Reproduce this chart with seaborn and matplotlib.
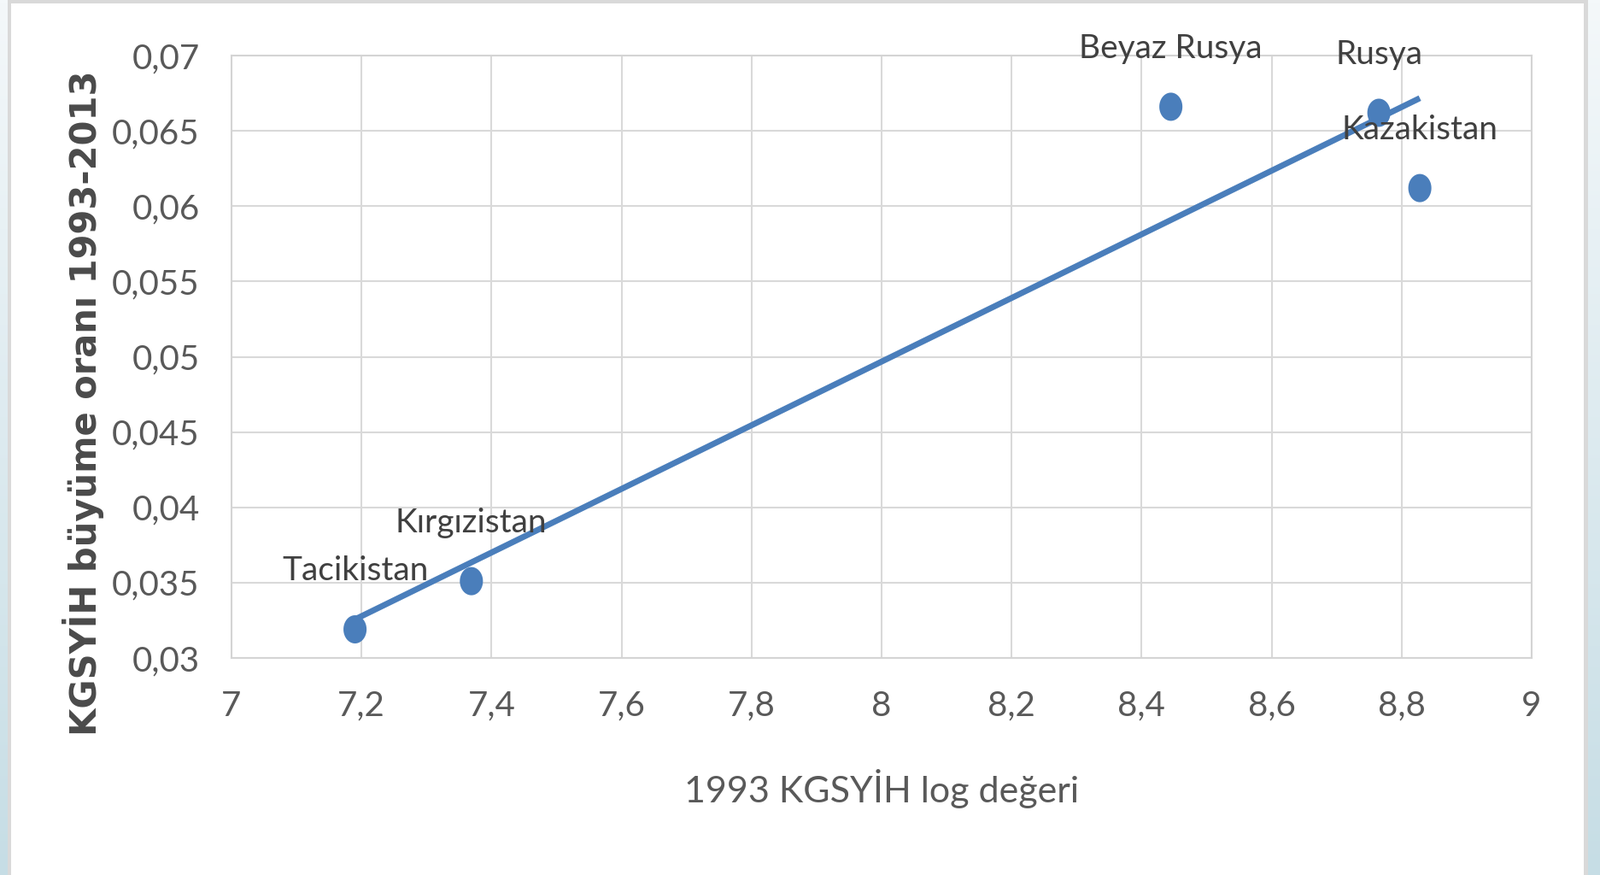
import numpy as np
import pandas as pd
import matplotlib.pyplot as plt
from matplotlib.patches import Rectangle
from matplotlib.colors import LinearSegmentedColormap
import seaborn as sns

# values
countries = ['Tacikistan', 'Kırgızistan', 'Beyaz Rusya', 'Rusya', 'Kazakistan']
gdp_log_1993 = [7.19, 7.369, 8.445, 8.765, 8.828]
growth_1993_2013 = [0.0319, 0.0351, 0.0666, 0.0662, 0.0612]

x_ticks = [7, 7.2, 7.4, 7.6, 7.8, 8, 8.2, 8.4, 8.6, 8.8, 9]
x_tick_labels = ['7', '7,2', '7,4', '7,6', '7,8', '8', '8,2', '8,4', '8,6', '8,8', '9']
y_ticks = [0.03, 0.035, 0.04, 0.045, 0.05, 0.055, 0.06, 0.065, 0.07]
y_tick_labels = ['0,03', '0,035', '0,04', '0,045', '0,05', '0,055', '0,06', '0,065', '0,07']

df = pd.DataFrame({'ulke': countries, 'log_kgsyih': gdp_log_1993, 'buyume': growth_1993_2013})

sns.set_style('white')
plt.rcParams['font.family'] = ['Lato', 'DejaVu Sans']

W, H = 1873, 1024
fig = plt.figure(figsize=(W / 100, H / 100), dpi=100)

# slide frame behind the chart
bg = fig.add_axes([0, 0, 1, 1], zorder=-10)
grad = np.linspace(0, 1, 256).reshape(-1, 1)
cmap = LinearSegmentedColormap.from_list('frame', ['#f4f8fa', '#c6dde5'])
bg.imshow(grad, aspect='auto', cmap=cmap, extent=[0, 1, 0, 1], origin='upper')
bg.axis('off')
fig.add_artist(Rectangle((9 / W, 0), (1859 - 9) / W, 1, transform=fig.transFigure,
                         facecolor='#d9d9d9', edgecolor='none', zorder=-5))
fig.add_artist(Rectangle((13 / W, 0), (1854 - 13) / W, (H - 4) / H, transform=fig.transFigure,
                         facecolor='white', edgecolor='none', zorder=-4))

ax = fig.add_axes([271 / W, 1 - 770 / H, (1793 - 271) / W, (770 - 65) / H])
ax.set_facecolor('none')

blue = '#4a7ebb'
ellipse = [(0.41 * np.cos(t), 0.5 * np.sin(t)) for t in np.linspace(0, 2 * np.pi, 48)]
sns.regplot(data=df, x='log_kgsyih', y='buyume', ci=None, truncate=True,
            marker=ellipse, color=blue, ax=ax,
            scatter_kws={'s': 565, 'edgecolors': 'none', 'alpha': 1, 'zorder': 3},
            line_kws={'lw': 5, 'solid_capstyle': 'butt', 'zorder': 4})

for name, x, y in zip(countries, gdp_log_1993, growth_1993_2013):
    ax.annotate(name, (x, y), xytext=(0, 49), textcoords='offset points',
                ha='center', va='center', fontsize=28, color='#404040', zorder=5)

ax.set_xlim(7, 9)
ax.set_ylim(0.03, 0.07)
ax.set_xticks(x_ticks, x_tick_labels)
ax.set_yticks(y_ticks, y_tick_labels)
ax.tick_params(length=0, labelsize=29, colors='#595959', pad=27)
ax.grid(True, color='#d9d9d9', lw=1.5)
ax.set_axisbelow(True)
for s in ax.spines.values():
    s.set_visible(True)
    s.set_color('#d4d4d4')
    s.set_linewidth(1.5)

ax.set_xlabel('1993 KGSYİH log değeri', fontsize=31, color='#595959')
ax.xaxis.set_label_coords(0.5, -0.217)
ax.xaxis.label.set_va('center')
ax.set_ylabel('KGSYİH büyüme oranı 1993-2013', fontsize=30, color='#4a4a4a',
              fontweight='bold', family='DejaVu Sans')
ax.yaxis.set_label_coords(-0.114, 0.4227)
ax.yaxis.label.set_va('center')

fig.savefig('out.png', dpi=100)
